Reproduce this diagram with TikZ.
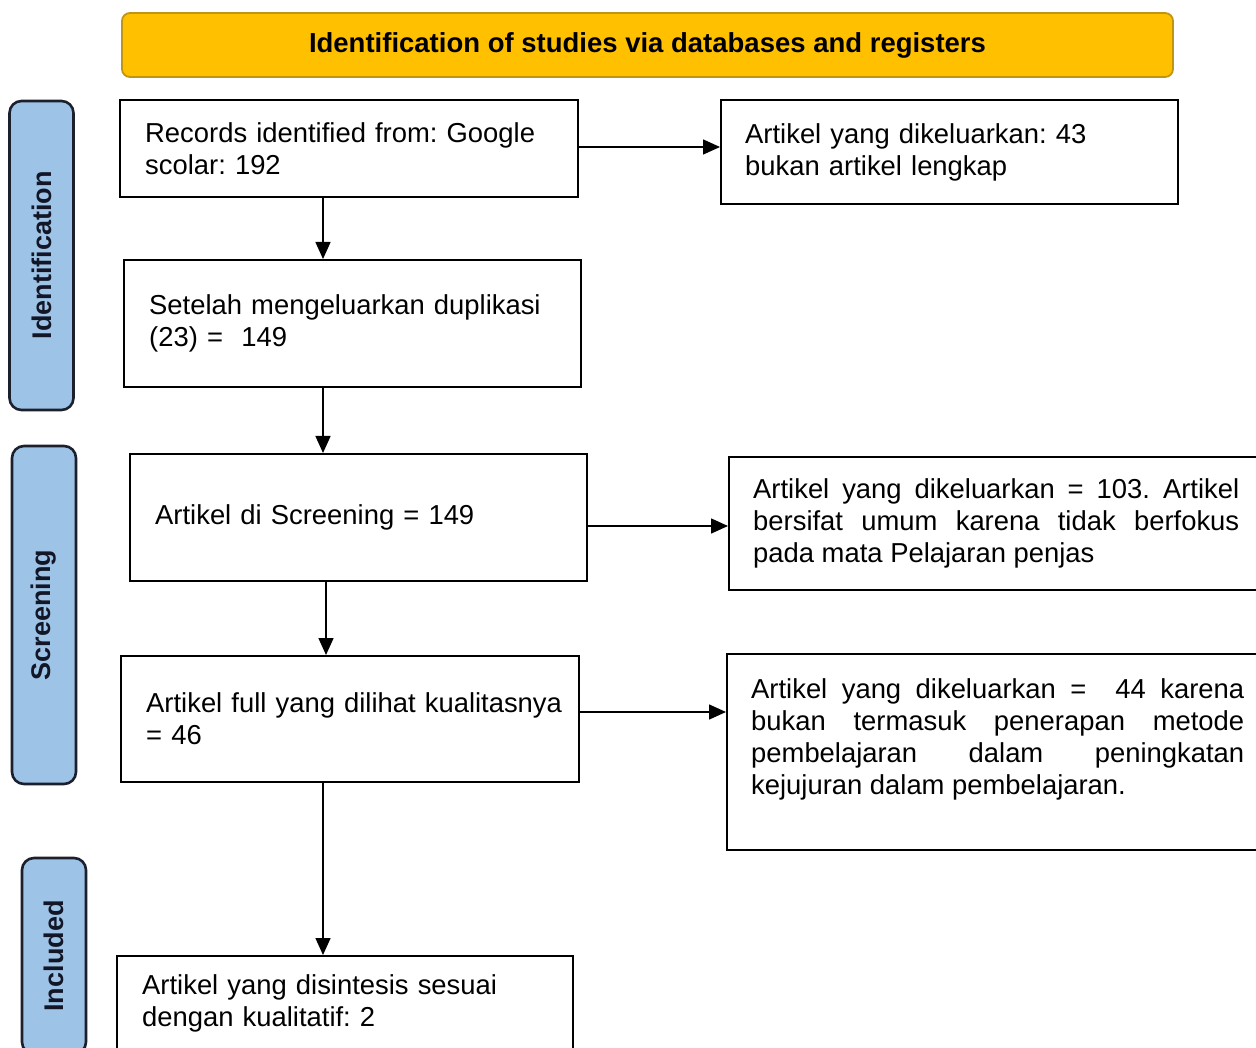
\documentclass[tikz,border=0pt]{standalone}
\usepackage{fontspec}
\setmainfont{Liberation Sans}
\usetikzlibrary{arrows.meta}
\definecolor{hdrfill}{RGB}{255,192,0}
\definecolor{hdrline}{RGB}{190,150,20}
\definecolor{sidefill}{RGB}{157,195,230}
\definecolor{sideline}{RGB}{28,32,45}
\definecolor{sidetext}{RGB}{18,22,38}
\tikzset{
  box/.style={draw=black, line width=2.4pt, rectangle, anchor=north west,
    inner xsep=25pt, inner ysep=0pt, align=left,
    font=\fontsize{27.4}{32}\selectfont},
  jbox/.style={box, align=justify, inner xsep=24pt},
  arr/.style={line width=1.5pt, -{Triangle[length=17pt,width=15pt]}},
  side/.style={draw=sideline, fill=sidefill, line width=2.6pt, rounded corners=12pt,
    rotate=90, minimum height=64pt, inner sep=0pt, text=sidetext,
    font=\fontsize{27}{32}\selectfont\bfseries},
  header/.style={draw=hdrline, fill=hdrfill, line width=1.8pt, rounded corners=8pt,
    minimum width=1051pt, minimum height=64pt, inner sep=0pt,
    font=\fontsize{27.5}{32}\selectfont\bfseries}
}
\begin{document}
\frenchspacing
\hyphenpenalty=10000\relax
\exhyphenpenalty=10000\relax
\tolerance=9999\relax
\begin{tikzpicture}[x=1pt,y=-1pt]
\useasboundingbox (0,0) rectangle (1256,1048);
\clip (0,0) rectangle (1256,1048);
\fill[white] (0,0) rectangle (1256,1048);

% header
\node[header] (hdr) at (647.5,45) {Identification of studies via databases and registers};

% side labels
\node[side, minimum width=309pt] (sid) at (41.5,255.5) {Identification};
\node[side, minimum width=338pt] (sscr) at (44,615) {Screening};
\node[side, minimum width=196pt] (sinc) at (54,956) {Included};

% main column
\node[box, minimum width=458pt, minimum height=97pt, text width=408pt] (b1) at (119,99)
  {Records identified from: Google\\scolar: 192};
\node[box, minimum width=457pt, minimum height=127pt, text width=407pt] (b2) at (123,259)
  {Setelah mengeluarkan duplikasi\\(23) =\ \ 149};
\node[box, minimum width=457pt, minimum height=127pt, text width=407pt] (b3) at (129,453)
  {Artikel di Screening = 149};
\node[box, minimum width=458pt, minimum height=126pt, text width=408pt] (b4) at (120,655)
  {\mbox{Artikel full yang dilihat kualitasnya}\\= 46};
\node[box, minimum width=456pt, minimum height=95pt, text width=406pt] (b5) at (116,955)
  {Artikel yang disintesis sesuai\\dengan kualitatif: 2};

% right column
\node[box, inner xsep=24pt, minimum width=457pt, minimum height=104pt, text width=409pt] (r1) at (720,99)
  {Artikel yang dikeluarkan: 43\\bukan artikel lengkap};
\node[jbox, minimum width=534pt, minimum height=133pt, text width=486pt] (r2) at (728,456)
  {Artikel yang dikeluarkan = 103. Artikel bersifat umum karena tidak berfokus pada mata Pelajaran penjas};
\node[jbox, minimum width=541pt, minimum height=196pt, text width=493pt] (r3) at (726,653)
  {Artikel yang dikeluarkan =\ \ 44 karena bukan termasuk penerapan metode pembelajaran dalam peningkatan kejujuran dalam pembelajaran.\par\mbox{}};

% helper coordinates for connector lines
\coordinate (vA) at (323,0);
\coordinate (vB) at (326,0);
\coordinate (h1) at (0,147);
\coordinate (h2) at (0,526);
\coordinate (h3) at (0,712);

% connectors
\draw[arr] (b1.east |- h1) -- (r1.west |- h1);
\draw[arr] (b1.south -| vA) -- (b2.north -| vA);
\draw[arr] (b2.south -| vA) -- (b3.north -| vA);
\draw[arr] (b3.east |- h2) -- (r2.west |- h2);
\draw[arr] (b3.south -| vB) -- (b4.north -| vB);
\draw[arr] (b4.east |- h3) -- (r3.west |- h3);
\draw[arr] (b4.south -| vA) -- (b5.north -| vA);
\end{tikzpicture}
\end{document}
